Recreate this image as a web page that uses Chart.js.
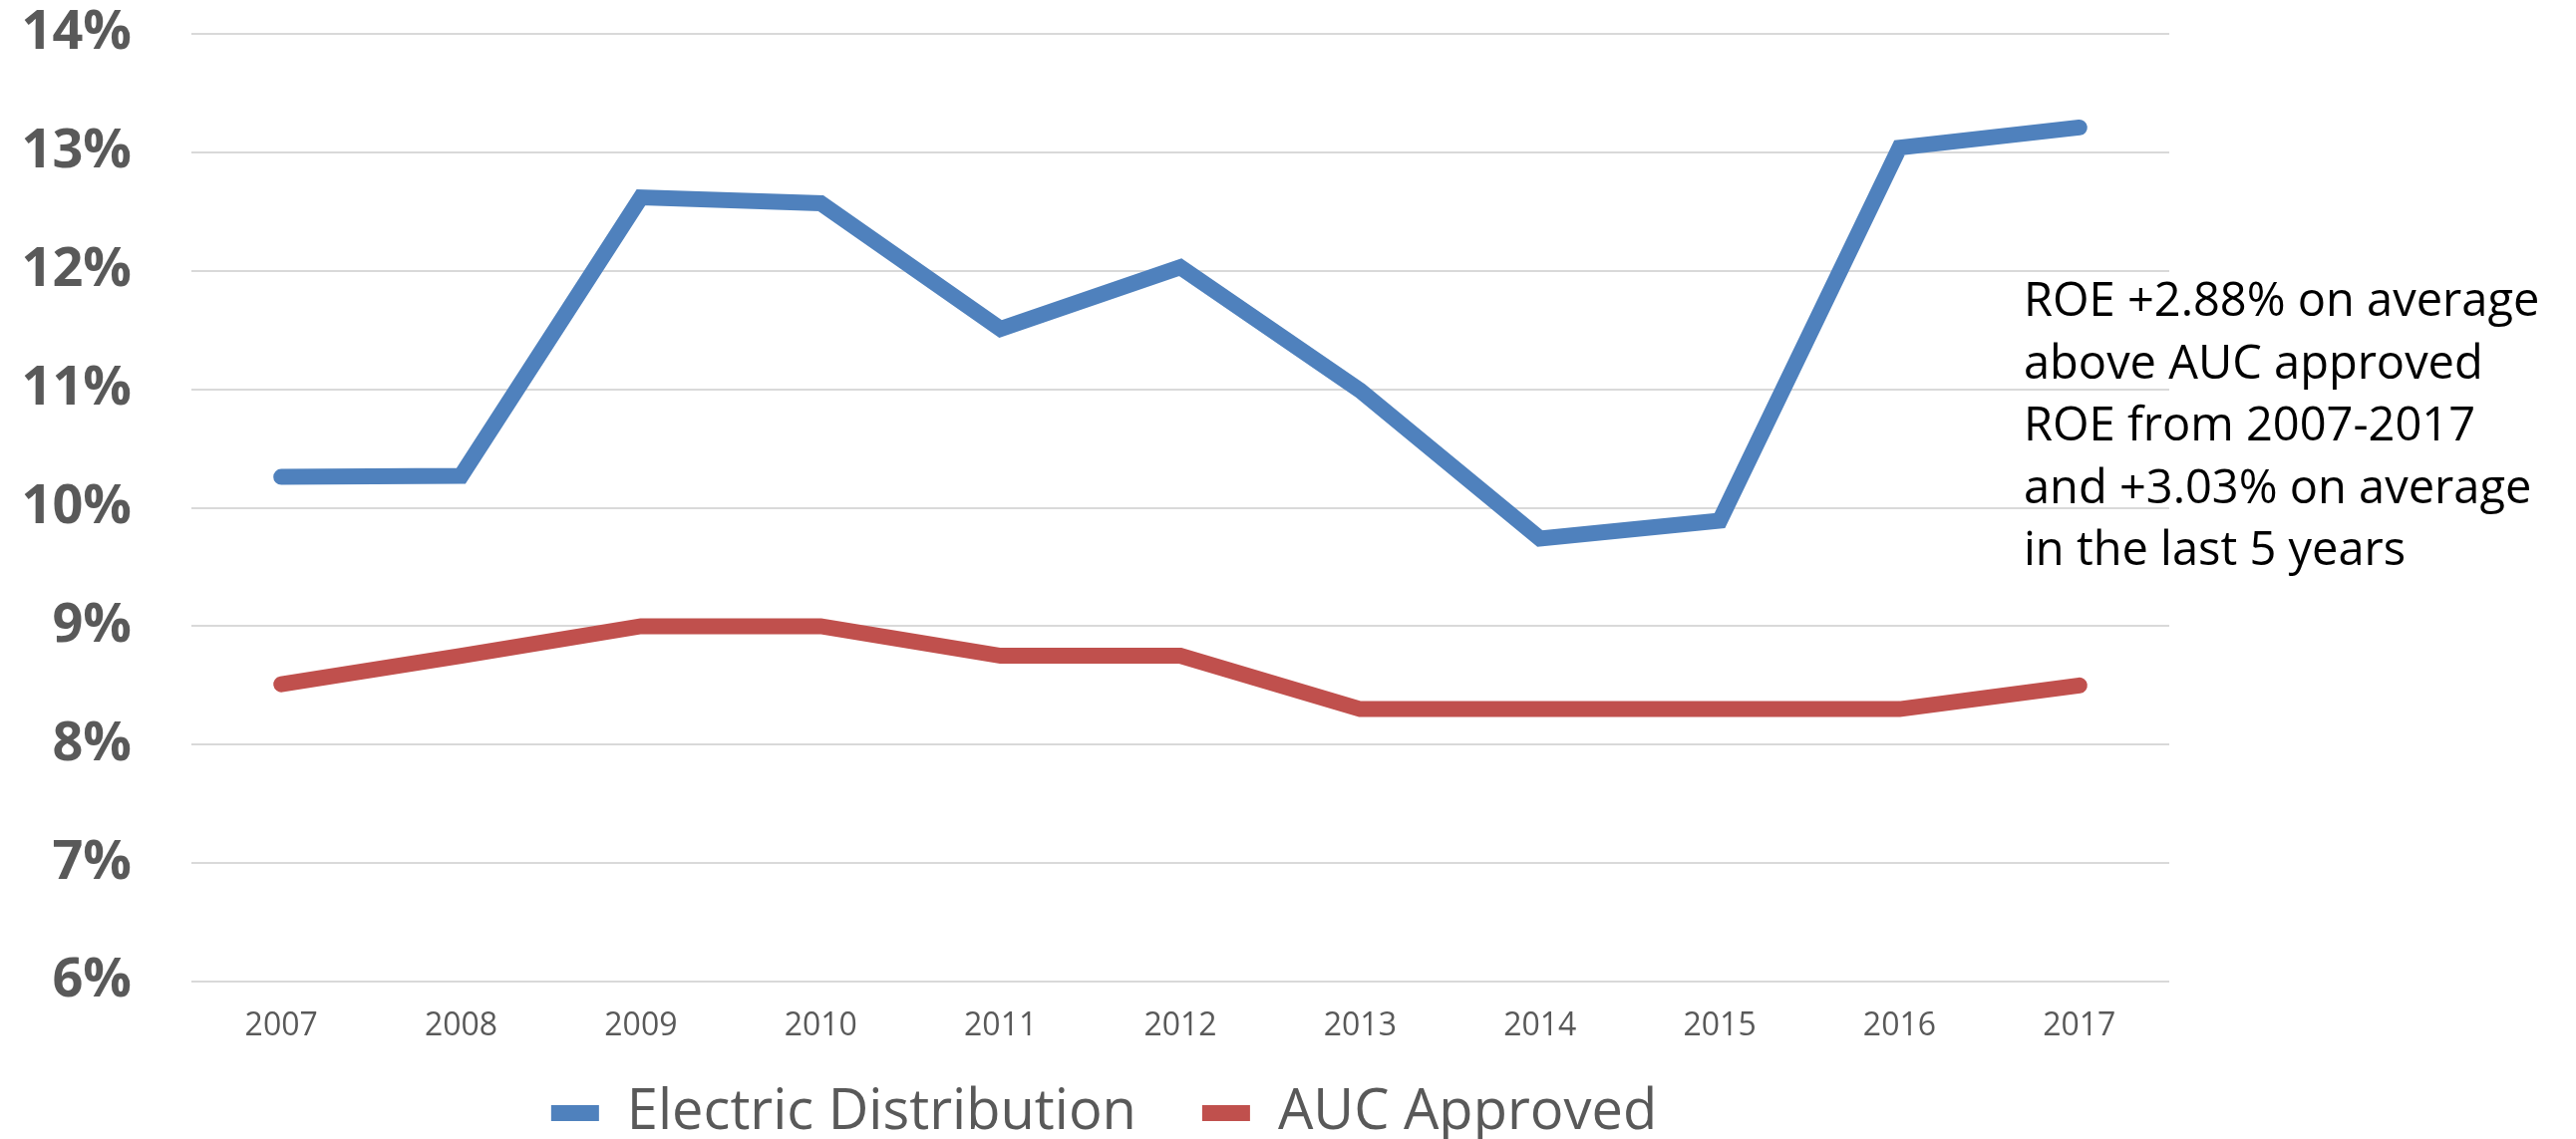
<!DOCTYPE html>
<html lang="en">
<head>
    <meta charset="UTF-8">
    <title>ROE vs AUC Approved</title>
    <style>
        * {
            margin: 0;
            padding: 0;
            box-sizing: border-box;
        }

        body {
            background-color: white;
            width: 2584px;
            height: 1143px;
            overflow: hidden;
        }

        .chart-wrap {
            position: relative;
            width: 2584px;
            height: 1143px;
        }

        .note {
            position: absolute;
            left: 2030px;
            top: 268px;
            font-family: 'Open Sans', sans-serif;
            font-size: 47px;
            line-height: 62.5px;
            color: #000;
            white-space: nowrap;
        }
    </style>
</head>
<body>
    <div class="chart-wrap">
        <canvas id="roeChart"></canvas>
        <div class="note">
            ROE +2.88% on average<br>
            above AUC approved<br>
            ROE from 2007-2017<br>
            and +3.03% on average<br>
            in the last 5 years
        </div>
    </div>

    <script src="https://cdn.jsdelivr.net/npm/chart.js"></script>
    <script>
        // values (percent)
        const years = ['2007', '2008', '2009', '2010', '2011', '2012', '2013', '2014', '2015', '2016', '2017'];
        const electricDistribution = [10.26, 10.27, 12.62, 12.57, 11.51, 12.03, 10.99, 9.74, 9.89, 13.04, 13.21];
        const aucApproved = [8.51, 8.75, 9.00, 9.00, 8.75, 8.75, 8.30, 8.30, 8.30, 8.30, 8.50];
        const yMin = 6;
        const yMax = 14;

        const grey = '#595959';

        const ctx = document.getElementById('roeChart').getContext('2d');

        const roeChart = new Chart(ctx, {
            type: 'line',
            data: {
                labels: years,
                datasets: [{
                    label: 'Electric Distribution',
                    data: electricDistribution,
                    borderColor: '#4F81BD',
                    backgroundColor: '#4F81BD',
                    borderWidth: 16,
                    borderCapStyle: 'round',
                    pointRadius: 0,
                    tension: 0
                }, {
                    label: 'AUC Approved',
                    data: aucApproved,
                    borderColor: '#C0504D',
                    backgroundColor: '#C0504D',
                    borderWidth: 16,
                    borderCapStyle: 'round',
                    pointRadius: 0,
                    tension: 0
                }]
            },
            options: {
                responsive: true,
                maintainAspectRatio: false,
                animation: false,
                layout: {
                    padding: { top: 34, right: 369, bottom: -12, left: 0 }
                },
                plugins: {
                    tooltip: { enabled: false },
                    legend: {
                        position: 'bottom',
                        labels: {
                            usePointStyle: true,
                            pointStyle: 'line',
                            pointStyleWidth: 48,
                            padding: 66,
                            color: grey,
                            font: { family: 'Open Sans', size: 56 }
                        }
                    }
                },
                scales: {
                    x: {
                        offset: true,
                        grid: { display: false, drawTicks: false },
                        border: { display: false },
                        ticks: {
                            // mirrored so the labels are not clipped to the (short) axis box
                            mirror: true,
                            padding: -64,
                            color: grey,
                            font: { family: 'Open Sans', size: 32 }
                        },
                        afterFit: scale => { scale.height = 38; }
                    },
                    y: {
                        min: yMin,
                        max: yMax,
                        border: { display: false },
                        grid: {
                            color: '#D9D9D9',
                            lineWidth: 2,
                            drawTicks: false
                        },
                        ticks: {
                            stepSize: 1,
                            color: grey,
                            padding: 60,
                            font: { family: 'Open Sans', size: 54, weight: 'bold' },
                            callback: v => v + '%'
                        },
                        afterFit: scale => {
                            scale.width = 192;
                            scale.paddingTop = 0;
                            scale.paddingBottom = 0;
                        }
                    },
                    // empty right-hand axis: only holds space so the legend centres where the original's does
                    spacer: {
                        type: 'linear',
                        position: 'right',
                        grid: { display: false, drawTicks: false },
                        border: { display: false },
                        ticks: { display: false },
                        afterFit: scale => {
                            scale.width = 39;
                            scale.paddingTop = 0;
                            scale.paddingBottom = 0;
                        }
                    }
                }
            }
        });
    </script>
</body>
</html>
